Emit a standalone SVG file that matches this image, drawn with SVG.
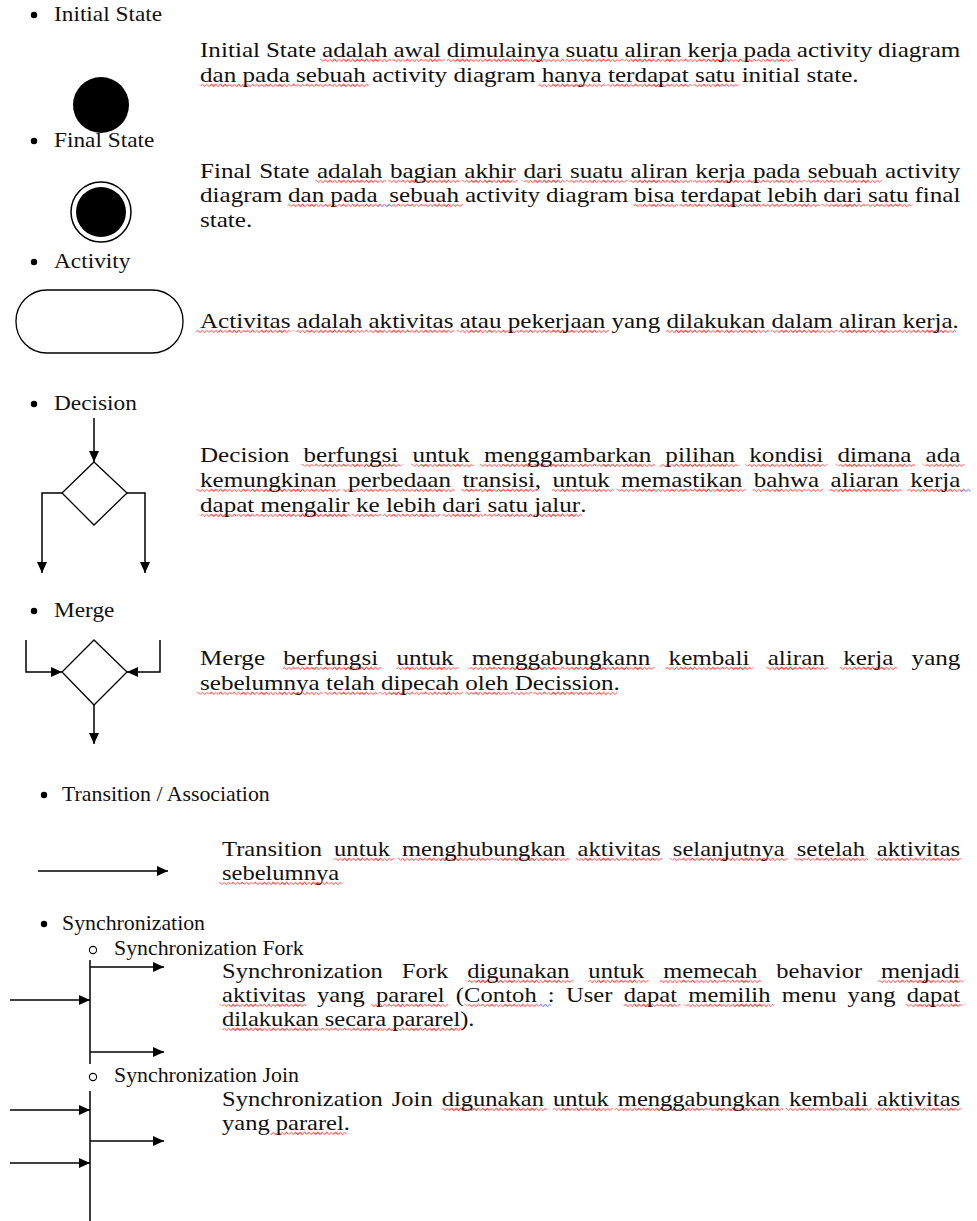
<svg xmlns="http://www.w3.org/2000/svg" width="977" height="1221" viewBox="0 0 977 1221">
<defs>
<marker id="ah" viewBox="0 0 11 10" refX="11" refY="5" markerWidth="11" markerHeight="10" markerUnits="userSpaceOnUse" orient="auto"><path d="M0,0 L11,5 L0,10 z" fill="#000"/></marker>
<pattern id="wave" patternUnits="userSpaceOnUse" width="4" height="40"><path d="M0,4.6 L2,2.2 L4,4.6" stroke="#ff1f1f" stroke-width="0.8" fill="none"/></pattern>
<pattern id="bwave" patternUnits="userSpaceOnUse" width="4" height="40"><path d="M0,4.6 L2,2.2 L4,4.6" stroke="#3358e0" stroke-width="0.8" fill="none"/></pattern>
<clipPath id="band" clipPathUnits="userSpaceOnUse"><rect x="-20" y="1.6" width="1000" height="3.6"/></clipPath>
<style>
text{font-family:"Liberation Serif","Times New Roman",serif;font-size:22px;fill:var(--tf,#111)}
text.h2{font-size:21px}
.s{stroke:var(--sq,none);stroke-width:10px;stroke-linejoin:round}
use.q{--sq:url(#wave);--tf:none;clip-path:url(#band)}
.ln{stroke:#000;stroke-width:1.5;fill:none}
.ar{stroke:#000;stroke-width:1.5;fill:none;marker-end:url(#ah)}
.bul{fill:#000}
.sub{fill:none;stroke:#000;stroke-width:1.1}
</style>
</defs>
<rect width="977" height="1221" fill="#fff"/>

<g id="initial-state">
<circle class="bul" cx="34" cy="15" r="3.2"/>
<text transform="translate(54 21) scale(1.06 1)">Initial State</text>
<circle cx="101" cy="105" r="28" fill="#000"/>
<g transform="translate(200 57) scale(1.14 1)" style="word-spacing:-0.4px"><use class="q" href="#is1"/><text id="is1" textLength="667">Initial State <tspan class="s">adalah</tspan> <tspan class="s">awal</tspan> <tspan class="s">dimulainya</tspan> <tspan class="s">suatu</tspan> <tspan class="s">aliran</tspan> <tspan class="s">kerja</tspan> <tspan class="s">pada</tspan> activity diagram</text></g>
<g transform="translate(200 82) scale(1.14 1)"><use class="q" href="#is2"/><text id="is2"><tspan class="s">dan</tspan> <tspan class="s">pada</tspan> <tspan class="s">sebuah</tspan> activity diagram <tspan class="s">hanya</tspan> <tspan class="s">terdapat</tspan> <tspan class="s">satu</tspan> initial state.</text></g>
</g>

<g id="final-state">
<circle class="bul" cx="34" cy="141" r="3.2"/>
<text transform="translate(54 147) scale(1.06 1)">Final State</text>
<circle cx="101" cy="212" r="30" fill="#fff" stroke="#000" stroke-width="1.5"/>
<circle cx="101" cy="212" r="25" fill="#000"/>
<g transform="translate(200 178) scale(1.14 1)" style="word-spacing:1.1px"><use class="q" href="#fs1"/><text id="fs1" textLength="667">Final State <tspan class="s">adalah</tspan> <tspan class="s">bagian</tspan> <tspan class="s">akhir</tspan> <tspan class="s">dari</tspan> <tspan class="s">suatu</tspan> <tspan class="s">aliran</tspan> <tspan class="s">kerja</tspan> <tspan class="s">pada</tspan> <tspan class="s">sebuah</tspan> activity</text></g>
<g transform="translate(200 202) scale(1.14 1)" style="word-spacing:-0.3px"><use class="q" href="#fs2"/><text id="fs2" xml:space="preserve" textLength="667">diagram <tspan class="s">dan</tspan> <tspan class="s">pada</tspan>  <tspan class="s">sebuah</tspan> activity diagram <tspan class="s">bisa</tspan> <tspan class="s">terdapat</tspan> <tspan class="s">lebih</tspan> <tspan class="s">dari</tspan> <tspan class="s">satu</tspan> final</text><rect x="156" y="1.6" width="11" height="3.6" fill="url(#bwave)"/></g>
<text transform="translate(200 227) scale(1.14 1)">state.</text>
</g>

<g id="activity">
<circle class="bul" cx="34" cy="262" r="3.2"/>
<text transform="translate(54 268) scale(1.06 1)">Activity</text>
<rect x="16" y="290" width="167" height="63" rx="31" ry="31" fill="#fff" stroke="#000" stroke-width="1.3"/>
<g transform="translate(200 328) scale(1.14 1)"><use class="q" href="#ac1"/><text id="ac1"><tspan class="s">Activitas</tspan> <tspan class="s">adalah</tspan> <tspan class="s">aktivitas</tspan> <tspan class="s">atau</tspan> <tspan class="s">pekerjaan</tspan> yang <tspan class="s">dilakukan</tspan> <tspan class="s">dalam</tspan> <tspan class="s">aliran</tspan> <tspan class="s">kerja</tspan>.</text></g>
</g>

<g id="decision">
<circle class="bul" cx="34" cy="404" r="3.2"/>
<text transform="translate(54 410) scale(1.06 1)">Decision</text>
<polygon points="94,462 127,493 94,525 62,493" fill="#fff" stroke="#000" stroke-width="1.3"/>
<g transform="translate(200 462) scale(1.14 1)" style="word-spacing:6.9px"><use class="q" href="#de1"/><text id="de1" textLength="667">Decision <tspan class="s">berfungsi</tspan> <tspan class="s">untuk</tspan> <tspan class="s">menggambarkan</tspan> <tspan class="s">pilihan</tspan> <tspan class="s">kondisi</tspan> <tspan class="s">dimana</tspan> <tspan class="s">ada</tspan></text></g>
<g transform="translate(200 487) scale(1.14 1)" style="word-spacing:4.5px"><use class="q" href="#de2"/><text id="de2" textLength="667"><tspan class="s">kemungkinan</tspan> <tspan class="s">perbedaan</tspan> <tspan class="s">transisi</tspan>, <tspan class="s">untuk</tspan> <tspan class="s">memastikan</tspan> <tspan class="s">bahwa</tspan> <tspan class="s">aliaran</tspan> <tspan class="s">kerja</tspan></text><rect x="667" y="1.6" width="9" height="3.6" fill="url(#bwave)"/></g>
<g transform="translate(200 512) scale(1.14 1)"><use class="q" href="#de3"/><text id="de3"><tspan class="s">dapat</tspan> <tspan class="s">mengalir</tspan> <tspan class="s">ke</tspan> <tspan class="s">lebih</tspan> <tspan class="s">dari</tspan> <tspan class="s">satu</tspan> <tspan class="s">jalur</tspan>.</text></g>
</g>

<g id="merge">
<circle class="bul" cx="34" cy="611" r="3.2"/>
<text transform="translate(54 617) scale(1.06 1)">Merge</text>
<polygon points="94,640 127,672 94,705 62,672" fill="#fff" stroke="#000" stroke-width="1.3"/>
<g transform="translate(200 665) scale(1.14 1)" style="word-spacing:10.5px"><use class="q" href="#me1"/><text id="me1" textLength="667">Merge <tspan class="s">berfungsi</tspan> <tspan class="s">untuk</tspan> <tspan class="s">menggabungkann</tspan> <tspan class="s">kembali</tspan> <tspan class="s">aliran</tspan> <tspan class="s">kerja</tspan> yang</text></g>
<g transform="translate(200 690) scale(1.14 1)"><use class="q" href="#me2"/><text id="me2"><tspan class="s">sebelumnya</tspan> <tspan class="s">telah</tspan> <tspan class="s">dipecah</tspan> <tspan class="s">oleh</tspan> <tspan class="s">Decission</tspan>.</text></g>
</g>

<g id="transition">
<circle class="bul" cx="44" cy="795" r="3.2"/>
<text class="h2" transform="translate(62 801) scale(1.04 1)">Transition / Association</text>
<g transform="translate(222 856) scale(1.115 1)" style="word-spacing:5.2px"><use class="q" href="#tr1"/><text id="tr1" textLength="662">Transition <tspan class="s">untuk</tspan> <tspan class="s">menghubungkan</tspan> <tspan class="s">aktivitas</tspan> <tspan class="s">selanjutnya</tspan> <tspan class="s">setelah</tspan> <tspan class="s">aktivitas</tspan></text></g>
<g transform="translate(222 880) scale(1.115 1)"><use class="q" href="#tr2"/><text id="tr2"><tspan class="s">sebelumnya</tspan></text></g>
</g>

<g id="synchronization">
<circle class="bul" cx="44" cy="924" r="3.2"/>
<text class="h2" transform="translate(62 930) scale(1.04 1)">Synchronization</text>
</g>

<g id="sync-fork">
<circle class="sub" cx="93" cy="950" r="3.6"/>
<text class="h2" transform="translate(114 955) scale(1.04 1)">Synchronization Fork</text>
<line class="ln" x1="90" y1="960" x2="90" y2="1064"/>
<g transform="translate(222 978) scale(1.115 1)" style="word-spacing:11.5px"><use class="q" href="#fk1"/><text id="fk1" textLength="662">Synchronization Fork <tspan class="s">digunakan</tspan> <tspan class="s">untuk</tspan> <tspan class="s">memecah</tspan> behavior <tspan class="s">menjadi</tspan></text></g>
<g transform="translate(222 1002) scale(1.115 1)" style="word-spacing:4.4px"><use class="q" href="#fk2"/><text id="fk2" textLength="662"><tspan class="s">aktivitas</tspan> yang <tspan class="s">pararel</tspan> (<tspan class="s">Contoh</tspan> : User <tspan class="s">dapat</tspan> <tspan class="s">memilih</tspan> menu yang <tspan class="s">dapat</tspan></text><rect x="285" y="1.6" width="10" height="3.6" fill="url(#bwave)"/></g>
<g transform="translate(222 1026) scale(1.115 1)"><use class="q" href="#fk3"/><text id="fk3"><tspan class="s">dilakukan</tspan> <tspan class="s">secara</tspan> <tspan class="s">pararel</tspan>).</text></g>
</g>

<g id="sync-join">
<circle class="sub" cx="93" cy="1077" r="3.6"/>
<text class="h2" transform="translate(114 1082) scale(1.04 1)">Synchronization Join</text>
<line class="ln" x1="90" y1="1091" x2="90" y2="1221"/>
<g transform="translate(222 1106) scale(1.115 1)" style="word-spacing:2.6px"><use class="q" href="#jn1"/><text id="jn1" textLength="662">Synchronization Join <tspan class="s">digunakan</tspan> <tspan class="s">untuk</tspan> <tspan class="s">menggabungkan</tspan> <tspan class="s">kembali</tspan> <tspan class="s">aktivitas</tspan></text></g>
<g transform="translate(222 1130) scale(1.115 1)"><use class="q" href="#jn2"/><text id="jn2">yang <tspan class="s">pararel</tspan>.</text></g>
</g>

<g id="connectors">
<line class="ar" x1="94" y1="418" x2="94" y2="462"/>
<polyline class="ar" points="62,493 42,493 42,573"/>
<polyline class="ar" points="127,493 145,493 145,573"/>
<polyline class="ar" points="26,640 26,672 62,672"/>
<polyline class="ar" points="160,640 160,672 127,672"/>
<line class="ar" x1="94" y1="705" x2="94" y2="744"/>
<line class="ar" x1="38" y1="871" x2="168" y2="871"/>
<line class="ar" x1="90" y1="967" x2="164" y2="967"/>
<line class="ar" x1="10" y1="1000" x2="90" y2="1000"/>
<line class="ar" x1="90" y1="1052" x2="164" y2="1052"/>
<line class="ar" x1="10" y1="1110" x2="90" y2="1110"/>
<line class="ar" x1="90" y1="1141" x2="164" y2="1141"/>
<line class="ar" x1="10" y1="1163" x2="90" y2="1163"/>
</g>
</svg>
